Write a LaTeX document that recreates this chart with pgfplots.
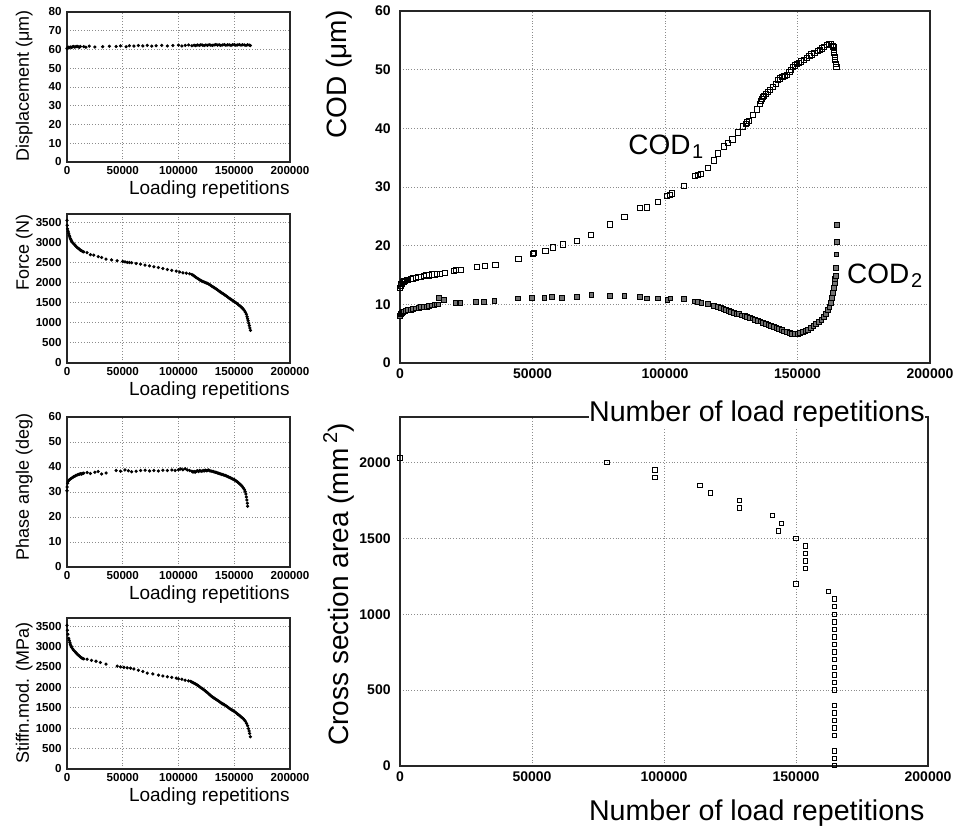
\documentclass[border=0pt]{standalone}
\usepackage{fontspec}
\setmainfont{Liberation Sans}
\usepackage{pgfplots}
\pgfplotsset{compat=1.18}
\pgfplotsset{
  base/.style={scale only axis, xmin=0, xmax=200000, ymin=0,
    xtick={0,50000,100000,150000,200000}, scaled ticks=false,
    /pgf/number format/fixed, /pgf/number format/precision=0,
    /pgf/number format/1000 sep={}, /pgf/number format/assume math mode=true,
    grid=major, grid style={densely dotted, black!45, line width=0.4pt},
    axis line style={black!85, line width=0.6pt},
    major tick length=0pt, tick style={draw=none}},
  small/.style={base, width=111.5pt,
    tick label style={font=\fontsize{5.8}{6.5}\selectfont\bfseries},
    yticklabel style={inner sep=0pt, xshift=-2.5pt},
    xticklabel style={inner sep=0pt, yshift=-2pt},
    xlabel={Loading repetitions},
    xlabel style={font=\fontsize{9.5}{11}\selectfont, inner sep=0pt, at={(axis description cs:1,-0.12)}, anchor=north east},
    ylabel style={font=\fontsize{9}{10}\selectfont, inner sep=0pt, anchor=south east}},
  big/.style={base,
    tick label style={font=\fontsize{7}{8}\selectfont\bfseries},
    yticklabel style={inner sep=0pt, xshift=-4.5pt},
    xticklabel style={inner sep=0pt, yshift=-2.5pt},
    xlabel={Number of load repetitions},
    ylabel style={font=\fontsize{14}{16}\selectfont, inner sep=0pt, anchor=south east}},
  sdot/.style={only marks, mark=*, mark size=0.6pt, black},
}
\begin{document}
\begin{tikzpicture}
\path[use as bounding box] (0,0) rectangle (484pt,414pt);

% ---- Displacement
\begin{axis}[small, at={(33.5pt,333pt)}, anchor=south west, height=75pt,
  ymax=80, ytick={0,10,...,80}, ylabel={Displacement (μm)},
  ylabel style={at={(axis description cs:-0.152,1.013)}}]
\addplot[sdot] coordinates {
(0,60.5)(500,61)(1000,60.8)(1500,61.2)(2000,61)(3000,61.3)(4000,61.1)(5000,61.4)(6000,61.6)(7000,61.3)(8000,61.5)(9000,61.7)(10000,61.4)(11000,61.2)(12000,61.6)
(15000,61.5)(17000,61.2)(20000,61.8)(25000,61.3)(32000,61.5)(38000,61.7)(44000,61.6)(48000,61.9)(53000,61.5)(56000,62)(60000,61.8)(64000,62.1)(68000,61.9)(72000,62.2)(76000,61.8)(80000,62)(85000,62.2)(90000,61.9)(95000,62.1)(100000,62.3)(103000,61.9)(106000,62.2)(109000,62.4)(112000,62)
(114000,62.3)(115500,62.1)(117000,62.4)(118500,62.2)(120000,62.5)(121500,62.3)(123000,62.1)(124500,62.4)(126000,62.2)(127500,62.5)(129000,62.3)(130500,62.2)(132000,62.4)(133500,62.6)(135000,62.3)(136500,62.5)(138000,62.2)(139500,62.4)(141000,62.6)(142500,62.3)(144000,62.5)(145500,62.4)(147000,62.2)(148500,62.5)(150000,62.6)(151500,62.3)(153000,62.4)(154500,62.6)(156000,62.3)(157500,62.5)(159000,62.4)(160500,62.2)(162000,62.5)(163500,62.3)(164500,62.1)
};
\end{axis}

% ---- Force
\begin{axis}[small, at={(33.5pt,232.5pt)}, anchor=south west, height=74.5pt,
  ymax=3700, ytick={0,500,...,3500}, ylabel={Force (N)},
  ylabel style={at={(axis description cs:-0.152,1.0)}}]
\addplot[sdot] coordinates {
(0,3540)(200,3420)(500,3330)(1000,3270)(1500,3220)(2000,3170)(2500,3130)(3000,3090)(3500,3060)(4000,3030)(5000,2990)(6000,2960)(7000,2930)(8000,2900)(9000,2870)(10000,2850)(11000,2830)(12000,2800)(13000,2790)(14000,2770)(15000,2760)
(18000,2740)(21000,2690)(24000,2680)(28000,2640)(31000,2620)(35000,2580)(40000,2560)(45000,2540)(50000,2520)(52000,2510)(54000,2500)(56000,2495)(58000,2490)(62000,2470)(66000,2455)(70000,2430)(74000,2410)(78000,2390)(82000,2370)(86000,2345)(90000,2320)(94000,2300)(98000,2280)(101000,2260)(104000,2240)(107000,2230)(110000,2215)(112000,2195)
(113000,2180)(114000,2160)(115000,2140)(116000,2120)(117000,2100)(118000,2085)(119000,2065)(120000,2050)(121000,2035)(122000,2020)(123000,2010)(124000,1995)(125000,1985)(126000,1975)(127000,1960)(128000,1945)(129000,1925)(130000,1905)(131000,1890)(132000,1870)(133000,1850)(134000,1835)(135000,1815)(136000,1795)(137000,1775)(138000,1755)(139000,1735)(140000,1720)(141000,1700)(142000,1680)(143000,1660)(144000,1640)(145000,1620)(146000,1600)(147000,1580)(148000,1560)(149000,1545)(150000,1525)(151000,1505)(152000,1485)(153000,1465)(154000,1440)(155000,1420)(156000,1395)(157000,1370)(158000,1340)(159000,1305)(160000,1260)(160800,1210)(161500,1150)(162000,1100)(162500,1050)(163000,990)(163500,930)(164000,870)(164500,810)
};
\end{axis}

% ---- Phase angle
\begin{axis}[small, at={(33.5pt,130.5pt)}, anchor=south west, height=75pt,
  ymax=60, ytick={0,10,...,60}, ylabel={Phase angle (deg)},
  ylabel style={at={(axis description cs:-0.152,1.027)}}]
\addplot[sdot] coordinates {
(0,30.5)(200,32)(500,33.5)(1000,34.3)(2000,34.8)(3000,35.2)(4000,35.5)(5000,35.8)(6000,36.1)(7000,36.3)(8000,36.6)(9000,36.8)(10000,37)(11000,37.1)(12000,37.3)(13000,37.2)(14000,37.4)(15000,37.5)
(18000,37.8)(21000,37.4)(25000,37.9)(28000,38.2)(31000,37.2)(35000,37.6)(44000,38.6)(48000,38.3)(52000,38.8)(55000,38.5)(58000,38.1)(62000,38.3)(66000,38.6)(70000,38.7)(74000,38.4)(78000,38.6)(82000,38.4)(86000,38.7)(90000,38.6)(94000,38.8)(97000,38.6)(100000,38.9)(102000,39.2)(104000,38.9)(106000,39.3)(108000,38.8)(110000,38.6)
(112000,38.3)(113000,38.0)(114000,38.2)(115000,37.9)(116000,38.3)(117000,38.5)(118000,38.2)(119000,38.6)(120000,38.4)(121000,38.3)(122000,38.6)(123000,38.4)(124000,38.7)(125000,38.5)(126000,38.6)(127000,38.8)(128000,38.5)(129000,38.4)(130000,38.3)(131000,38.2)(132000,38.0)(133000,37.9)(134000,37.8)(135000,37.6)(136000,37.5)(137000,37.3)(138000,37.2)(139000,37.0)(140000,36.9)(141000,36.7)(142000,36.6)(143000,36.4)(144000,36.2)(145000,36.0)(146000,35.8)(147000,35.6)(148000,35.3)(149000,35.1)(150000,34.9)(151000,34.6)(152000,34.3)(153000,34.0)(154000,33.6)(155000,33.2)(156000,32.8)(157000,32.3)(158000,31.7)(159000,31.0)(159800,30.2)(160400,29.2)(160900,28.0)(161300,26.8)(161700,25.5)(162000,24.3)
};
\end{axis}

% ---- Stiffness modulus
\begin{axis}[small, at={(33.5pt,29.5pt)}, anchor=south west, height=75.5pt,
  ymax=3700, ytick={0,500,...,3500}, ylabel={Stiffn.mod. (MPa)},
  ylabel style={at={(axis description cs:-0.152,0.973)}}]
\addplot[sdot] coordinates {
(0,3520)(300,3400)(800,3300)(1500,3200)(2000,3150)(2500,3100)(3000,3060)(3500,3020)(4000,2990)(5000,2950)(6000,2910)(7000,2880)(8000,2850)(9000,2820)(10000,2790)(11000,2770)(12000,2745)(13000,2725)(14000,2710)(15000,2700)
(18000,2690)(22000,2660)(26000,2640)(30000,2610)(35000,2570)(45000,2520)(48000,2500)(51000,2490)(54000,2480)(57000,2470)(60000,2450)(64000,2420)(68000,2390)(72000,2350)(77000,2330)(82000,2300)(86000,2280)(90000,2260)(94000,2245)(98000,2225)(100000,2210)(103000,2200)(106000,2175)(109000,2160)(111000,2145)
(112000,2130)(113000,2115)(114000,2100)(115000,2085)(116000,2070)(117000,2055)(118000,2035)(119000,2015)(120000,1995)(121000,1975)(122000,1955)(123000,1935)(124000,1915)(125000,1890)(126000,1870)(127000,1845)(128000,1820)(129000,1795)(130000,1775)(131000,1755)(132000,1735)(133000,1715)(134000,1700)(135000,1680)(136000,1665)(137000,1645)(138000,1625)(139000,1605)(140000,1590)(141000,1575)(142000,1555)(143000,1540)(144000,1520)(145000,1500)(146000,1480)(147000,1465)(148000,1445)(149000,1425)(150000,1410)(151000,1390)(152000,1370)(153000,1345)(154000,1325)(155000,1305)(156000,1280)(157000,1260)(158000,1235)(159000,1205)(160000,1170)(161000,1120)(162000,1060)(162800,990)(163300,930)(163800,870)(164500,790)
};
\end{axis}

% ---- Cross section area (big bottom)
\begin{axis}[big, at={(200pt,31pt)}, anchor=south west, width=264pt, height=174.5pt,
  ymax=2300, ytick={0,500,...,2000},
  xlabel style={font=\fontsize{14.3}{16}\selectfont, inner sep=0pt, at={(axis description cs:0.994,-0.097)}, anchor=north east},
  ylabel={Cross section area (mm\,\raisebox{0.42em}{\fontsize{10}{10}\selectfont 2})},
  ylabel style={at={(axis description cs:-0.085,0.983)}}]
\addplot[only marks, mark=square, mark size=1.1pt, black, mark options={line width=0.5pt}] coordinates {
(0,2030)(78400,2000)(96600,1950)(96600,1900)(113600,1850)(117700,1800)(128600,1750)(128600,1700)(141000,1650)(144600,1600)(143400,1550)(150000,1500)(150000,1200)
(153600,1450)(153600,1400)(153600,1350)(153600,1300)(162400,1150)
(164600,1100)(164600,1050)(164600,1000)(164600,950)(164600,900)(164600,850)(164600,800)(164600,750)(164600,700)(164600,650)(164600,600)(164600,550)(164600,500)
(164600,400)(164600,350)(164600,300)(164600,250)(164600,200)(164600,100)(164600,50)(164600,5)
};
\end{axis}

% ---- COD (big top)
\begin{axis}[big, at={(200pt,232.5pt)}, anchor=south west, width=265pt, height=176pt,
  ymax=60, ytick={0,10,...,60},
  xlabel style={font=\fontsize{14.3}{16}\selectfont, inner sep=0pt, fill=white, at={(axis description cs:0.9906,-0.105)}, anchor=north east},
  ylabel={COD (μm)},
  ylabel style={at={(axis description cs:-0.089,1.003)}}]
\addplot[only marks, mark=square, mark size=1.3pt, black, mark options={line width=0.5pt}] coordinates {
(0,12.8)(300,13.2)(600,13.5)(1000,13.8)(1500,13.9)(2000,14.0)(2500,14.1)(3000,14.2)(4000,14.3)(5000,14.4)(6000,14.5)(7000,14.6)(8000,14.6)(9000,14.8)(10000,15.0)(11000,14.9)(12000,15.1)(13000,15.1)(14000,15.2)(15000,15.2)
(17000,15.4)(20500,15.7)(21000,15.9)(23000,15.8)(29000,16.4)(32000,16.5)(36000,16.7)(44700,17.7)(50200,18.6)(50500,18.8)(54900,19.1)(57600,19.7)(61600,20.2)(66700,20.8)(72200,21.8)(79200,23.6)(84700,24.9)(90500,26.4)(93300,26.5)(97300,27.5)(100900,28.5)(102000,28.7)(102500,28.9)(107100,30.2)(111400,31.9)(112500,32.0)(113700,32.2)(116100,33.2)(118400,34.5)(120000,35.7)(122400,36.9)(123900,37.5)(125500,38.1)(127500,39.3)(129400,40.3)(130500,40.8)(131000,41.0)(131800,41.3)(133300,42.3)(134600,43.2)(135700,44.1)(136200,44.7)(136500,45.0)(137000,45.3)(137300,45.5)(138000,45.8)(138800,46.2)(139700,46.6)(140700,47.0)(142000,47.6)(142700,48.2)(143500,48.5)(144300,48.7)(145100,48.9)(145900,49.1)(147000,49.6)(147600,50.0)(148200,50.5)(149000,50.7)(149800,51.0)(150600,51.2)(151400,51.4)(152500,51.7)(153700,52.0)(154500,52.3)(155300,52.6)(156400,52.9)(157600,53.2)(158400,53.4)(159200,53.6)(160000,53.9)(161100,54.2)(161900,54.4)(162700,54.3)(163300,54.1)(163600,53.9)(163800,53.4)(163900,52.8)(164000,52.2)(164200,51.6)(164400,51.0)(164700,50.5)
};
\addplot[only marks, mark=square*, mark size=1.2pt, black, mark options={fill=black!55, line width=0.4pt}] coordinates {
(0,8.0)(300,8.4)(600,8.6)(1000,8.7)(1500,8.8)(2000,8.9)(3000,9.0)(4000,9.1)(5000,9.2)(6000,9.3)(7000,9.4)(8000,9.5)(9000,9.6)(10000,9.6)(11000,9.7)(12000,9.8)(13000,9.9)(14000,10.0)(14500,10.0)
(14800,11.1)(16700,10.7)(20900,10.3)(22800,10.2)(28700,10.4)(31800,10.4)(35600,10.6)(44400,11.0)(49800,11.1)(54500,11.1)(57200,11.2)(61200,11.1)(66700,11.2)(72200,11.6)(79200,11.5)(84700,11.5)(90500,11.3)(93300,11.0)(97300,11.0)(100900,10.8)(102000,11.0)(107100,10.9)(111400,10.5)(112500,10.4)(113700,10.3)(116100,10.1)(118400,9.7)(120000,9.6)
(121000,9.4)(122000,9.2)(123000,9.0)(124000,8.9)(125000,8.7)(126000,8.6)(127000,8.4)(128000,8.3)(129000,8.1)(130000,8.0)(131000,7.9)(132000,7.7)(133000,7.6)(134000,7.4)(135000,7.2)(136000,7.1)(137000,6.9)(138000,6.7)(139000,6.5)(140000,6.3)(141000,6.1)(142000,6.0)(143000,5.8)(144000,5.6)(145000,5.4)(146000,5.3)(147000,5.1)(148000,5.0)(149000,5.0)(150000,5.0)(151000,5.1)(152000,5.3)(153000,5.5)(154000,5.7)(155000,6.0)(156000,6.3)(157000,6.6)(158000,7.0)(159000,7.4)(160000,7.9)(160800,8.4)(161500,9.0)(162000,9.6)(162500,10.3)(163000,11.1)(163400,12.0)(163700,12.8)(164000,13.6)(164200,14.3)(164400,14.9)(164600,16.2)(164700,18.5)(164800,20.6)(164900,23.5)
};
\node[anchor=base west, inner sep=0pt, font=\fontsize{14}{16}\selectfont] at (axis cs:86000,35.6) {COD\kern0.8pt\raisebox{-2pt}{\fontsize{10}{10}\selectfont 1}};
\node[anchor=base west, inner sep=0pt, font=\fontsize{14}{16}\selectfont] at (axis cs:168600,13.6) {COD\kern0.8pt\raisebox{-2pt}{\fontsize{10}{10}\selectfont 2}};
\end{axis}
\end{tikzpicture}
\end{document}
